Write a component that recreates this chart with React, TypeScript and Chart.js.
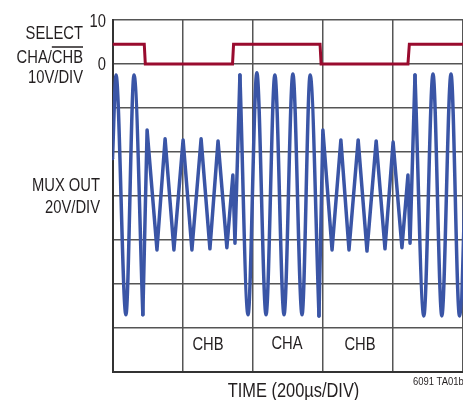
import React, { useEffect, useRef } from "react";
import { Chart, registerables } from "chart.js";

Chart.register(...registerables);

// Time in microseconds (200 µs per division)
const selectTimes = [0, 90, 93, 340, 343, 588, 591, 837, 841, 1000];
// SELECT signal in volts (10 V/div)
const selectVolts = [4.5, 4.5, 0, 0, 4.5, 4.5, 0, 0, 4.5, 4.5];

// MUX OUT vertices (time in µs, volts at 20 V/div)
const muxTimes = [
  0, 10, 38, 61, 86,
  98, 126, 149, 174, 200, 225, 251, 276, 299, 324, 341, 347,
  361, 384, 409, 435, 460, 486, 511, 537, 560, 585,
  596, 622, 647, 670, 696, 721, 747, 772, 795, 820, 837, 843,
  857, 882, 908, 933, 959, 983, 1008,
];
const muxVolts = [
  17, 55, -54, 55, -54,
  30, -24.5, 26, -24.5, 25.5, -24.5, 26, -24, 25, -23.5, 9.5, -21.5,
  55, -54, 56, -54, 55, -54, 55.5, -54, 55, -54.5,
  30, -24.5, 25.5, -24.5, 25.5, -25, 25, -24, 24.5, -23.5, 9.5, -21.5,
  55, -54.5, 55.5, -54.5, 55.5, -54.5, 55,
];
// index ranges of the MUX OUT trace that carry CHA (sine); the rest is CHB (triangle)
const chaRanges = [
  [0, 4],
  [17, 26],
  [39, 45],
];

const tickLabels = ["10", "0"];
const channelLabels = ["CHB", "CHA", "CHB"];
const channelCenters = [208, 287, 360];

const FONT = "'Liberation Sans', Arial, sans-serif";
const TEXT = "#231f20";
const NARROW = 0.82;
const BLUE = "#3a55a6";

function narrowText(
  ctx: CanvasRenderingContext2D,
  text: string,
  x: number,
  y: number,
  size: number,
  align: "left" | "right" | "center"
) {
  ctx.save();
  ctx.font = `${size}px ${FONT}`;
  ctx.textAlign = align;
  ctx.textBaseline = "alphabetic";
  ctx.translate(x, y);
  ctx.scale(NARROW, 1);
  ctx.fillText(text, 0, 0);
  ctx.restore();
}

const textPlugin = {
  id: "scopeText",
  afterDraw(chart: any) {
    const ctx: CanvasRenderingContext2D = chart.ctx;
    ctx.save();
    ctx.fillStyle = TEXT;
    narrowText(ctx, "SELECT", 83, 39, 18, "right");
    narrowText(ctx, "CHA/CHB", 83, 63, 18, "right");
    ctx.font = `18px ${FONT}`;
    const chb = ctx.measureText("CHB").width * NARROW;
    ctx.strokeStyle = TEXT;
    ctx.lineWidth = 1.5;
    ctx.beginPath();
    ctx.moveTo(83 - chb, 47);
    ctx.lineTo(83, 47);
    ctx.stroke();
    narrowText(ctx, "10V/DIV", 83, 83, 18, "right");
    const ys = chart.scales.y;
    narrowText(ctx, tickLabels[0], 106, ys.getPixelForValue(10) + 7, 18, "right");
    narrowText(ctx, tickLabels[1], 106, ys.getPixelForValue(0) + 6, 18, "right");
    narrowText(ctx, "MUX OUT", 100, 191, 18, "right");
    narrowText(ctx, "20V/DIV", 100, 213, 18, "right");
    channelLabels.forEach((l, i) => {
      narrowText(ctx, l, channelCenters[i], i === 1 ? 349 : 350, 18, "center");
    });
    narrowText(ctx, "TIME (200µs/DIV)", 293.5, 397, 20, "center");
    narrowText(ctx, "6091 TA01b", 413, 385, 11.5, "left");
    ctx.restore();
  },
};

const inCha = (i: number) => chaRanges.some(([a, b]) => i >= a && i <= b);
const chaInterior = (i: number) => chaRanges.some(([a, b]) => i > a && i < b);

export default function App() {
  const ref = useRef<HTMLCanvasElement>(null);
  useEffect(() => {
    if (!ref.current) return;
    const chaData = muxTimes.map((t, i) => ({ x: t, y: inCha(i) ? muxVolts[i] : null }));
    const chbData = muxTimes.map((t, i) => ({ x: t, y: chaInterior(i) ? null : muxVolts[i] }));
    const chart = new Chart(ref.current, {
      type: "line",
      data: {
        datasets: [
          {
            label: "SELECT",
            data: selectTimes.map((t, i) => ({ x: t, y: selectVolts[i] })),
            borderColor: "#990b2e",
            borderWidth: 3,
            pointRadius: 0,
            tension: 0,
            yAxisID: "y",
          },
          {
            label: "MUX OUT (CHB)",
            data: chbData,
            borderColor: BLUE,
            borderWidth: 3.5,
            pointRadius: 0,
            tension: 0,
            spanGaps: false,
            yAxisID: "y2",
            borderJoinStyle: "round",
            borderCapStyle: "round",
          },
          {
            label: "MUX OUT (CHA)",
            data: chaData,
            borderColor: BLUE,
            borderWidth: 3.5,
            pointRadius: 0,
            cubicInterpolationMode: "monotone",
            spanGaps: false,
            yAxisID: "y2",
            borderJoinStyle: "round",
            borderCapStyle: "round",
          },
        ],
      },
      options: {
        responsive: false,
        animation: false,
        layout: { padding: { left: 0, right: 0, top: 20, bottom: 0 } },
        plugins: { legend: { display: false }, tooltip: { enabled: false } },
        scales: {
          x: {
            type: "linear",
            min: 0,
            max: 993,
            ticks: { display: false, stepSize: 200 },
            grid: { color: "#555", lineWidth: 1.5, drawTicks: false },
            border: { color: "#333", width: 2 },
            afterFit: (s: any) => {
              s.height = 28;
            },
          },
          y: {
            type: "linear",
            min: -70,
            max: 10,
            ticks: { display: false, stepSize: 10 },
            grid: { color: "#555", lineWidth: 1.5, drawTicks: false },
            border: { color: "#333", width: 2 },
            afterFit: (s: any) => {
              s.width = 112.5;
            },
          },
          y2: {
            type: "linear",
            min: -80,
            max: 80,
            display: false,
          },
        },
      },
      plugins: [textPlugin],
    });
    return () => chart.destroy();
  }, []);
  return (
    <div style={{ position: "absolute", left: 0, top: 0, width: 463, height: 400, background: "#fff" }}>
      <canvas ref={ref} width={463} height={400} />
    </div>
  );
}
